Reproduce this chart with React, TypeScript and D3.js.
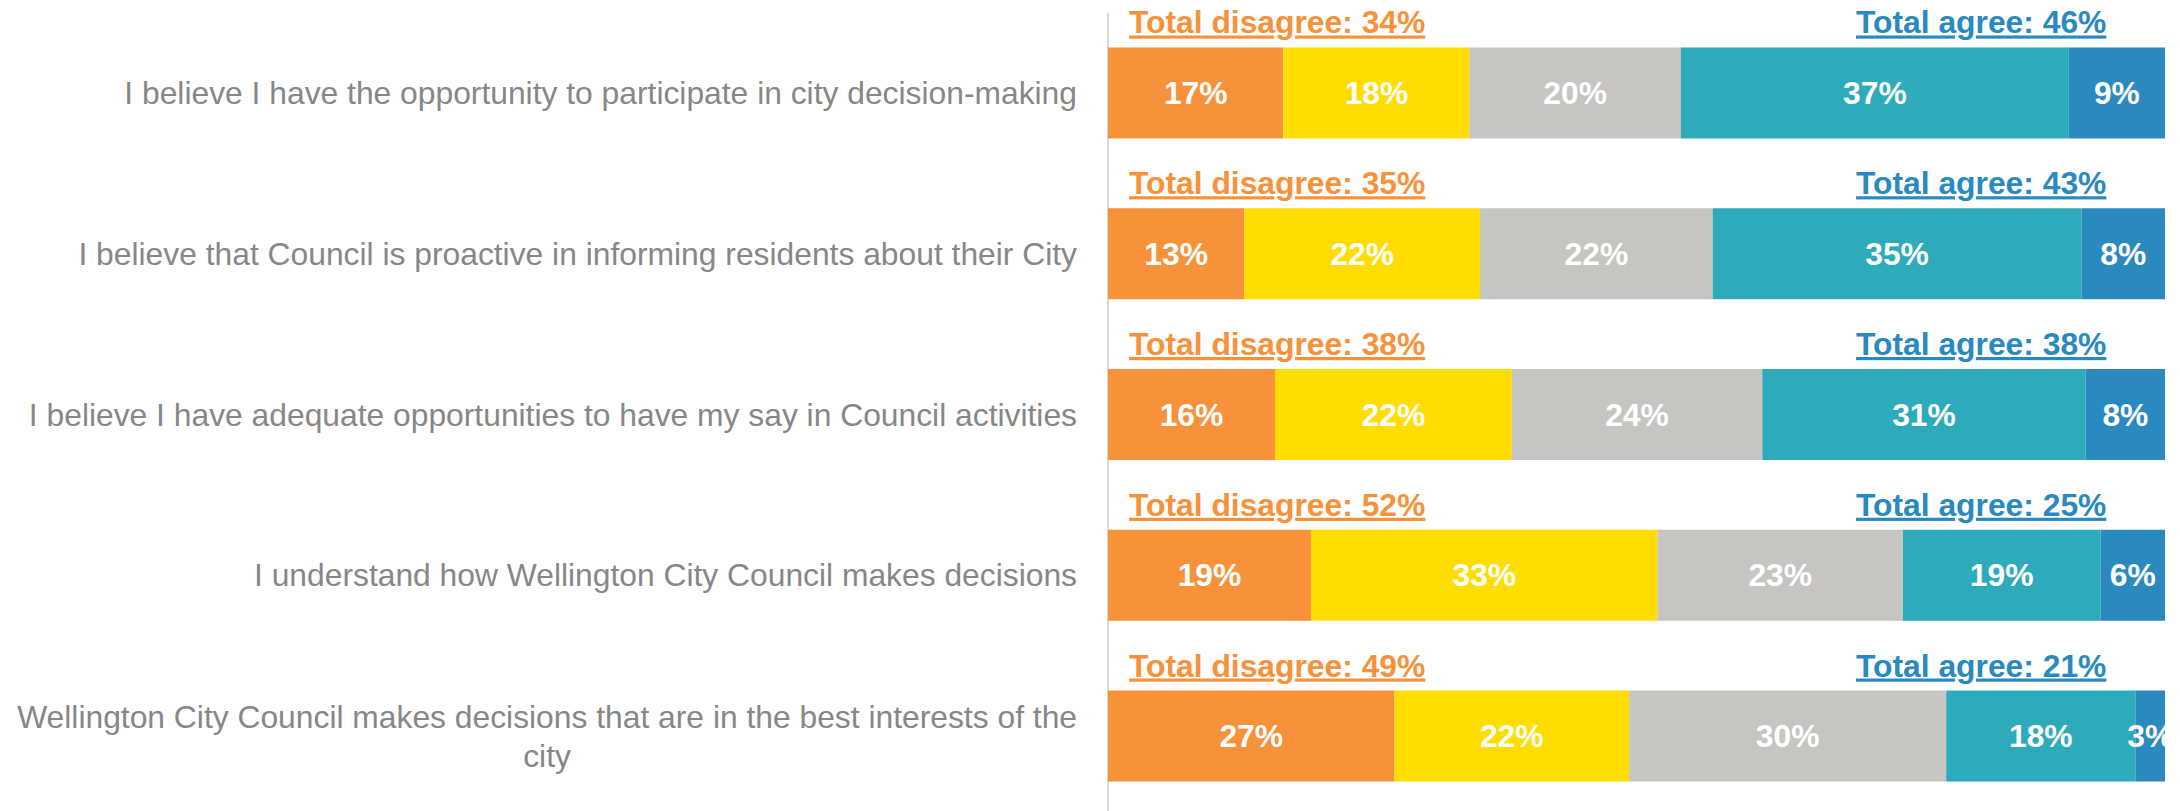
import React, { useMemo } from 'react';
import * as d3 from 'd3';

const categories = [
  'I believe I have the opportunity to participate in city decision-making',
  'I believe that Council is proactive in informing residents about their City',
  'I believe I have adequate opportunities to have my say in Council activities',
  'I understand how Wellington City Council makes decisions',
  'Wellington City Council makes decisions that are in the best interests of the city',
];

// shares per row
const stronglyDisagree = [16.6, 12.9, 15.8, 19.2, 27.1];
const disagree = [17.6, 22.3, 22.4, 32.8, 22.2];
const neutral = [20.0, 22.0, 23.7, 23.2, 30.0];
const agree = [36.7, 34.9, 30.6, 18.7, 17.9];
const stronglyAgree = [9.1, 7.9, 7.5, 6.1, 2.8];

const totalDisagree = [34, 35, 38, 52, 49];
const totalAgree = [46, 43, 38, 25, 21];

const series = [stronglyDisagree, disagree, neutral, agree, stronglyAgree];
const colors = ['#f7923b', '#ffdd00', '#c6c5c2', '#2eabba', '#2a8ac0'];

const width = 2180;
const height = 811;
const fontSize = 31.8;
const font = '"Liberation Sans", Arial, sans-serif';

const App = () => {
  const x = d3.scaleLinear().domain([0, 100]).range([1108, 2165]);
  const y = d3.scaleBand<number>()
    .domain(d3.range(categories.length))
    .range([12.6, 816.4])
    .paddingInner(0.434)
    .paddingOuter(0.217);

  const rows = categories.map((c, i) => {
    const vals = series.map(s => s[i]);
    const starts = d3.cumsum([0, ...vals.slice(0, -1)]);
    return vals.map((v, j) => ({ v, x0: starts[j], x1: starts[j] + v, color: colors[j] }));
  });

  // split the last label the way the source wraps it
  const labelLines = categories.map(c =>
    c.length > 80 ? [c.slice(0, c.lastIndexOf(' ')), c.slice(c.lastIndexOf(' ') + 1)] : [c]
  );

  const measure = useMemo(() => {
    const ctx = document.createElement('canvas').getContext('2d');
    return (t: string) => {
      if (!ctx) return t.length * fontSize * 0.45;
      ctx.font = `${fontSize}px ${font}`;
      return ctx.measureText(t).width;
    };
  }, []);

  document.body.style.margin = '0';
  const labelRight = 1077;
  const lineH = 39;

  return (
    <svg width={width} height={height} style={{ display: 'block', fontFamily: font }}>
      <defs>
        <clipPath id="plot">
          <rect x={x(0)} y={0} width={x(100) - x(0)} height={height} />
        </clipPath>
      </defs>
      <line x1={x(0)} x2={x(0)} y1={13} y2={height} stroke="#d9d9d9" strokeWidth={2} />
      {categories.map((c, i) => {
        const top = y(i) as number;
        const mid = top + y.bandwidth() / 2;
        const lines = labelLines[i];
        const blockW = d3.max(lines, measure) as number;
        return (
          <g key={i}>
            {lines.map((ln, k) => (
              <text
                key={k}
                x={lines.length > 1 ? labelRight - blockW / 2 : labelRight}
                y={mid + (k - (lines.length - 1) / 2) * lineH}
                dy="0.35em"
                textAnchor={lines.length > 1 ? 'middle' : 'end'}
                fontSize={fontSize}
                fill="#878787"
              >{ln}</text>
            ))}
            <g clipPath="url(#plot)">
              {rows[i].map((seg, j) => (
                <g key={j}>
                  <rect x={x(seg.x0)} y={top} width={x(seg.x1) - x(seg.x0)} height={y.bandwidth()} fill={seg.color} />
                  <text
                    x={(x(seg.x0) + x(seg.x1)) / 2}
                    y={mid}
                    dy="0.35em"
                    textAnchor="middle"
                    fontSize={fontSize}
                    fontWeight="bold"
                    fill="#ffffff"
                  >{Math.round(seg.v)}%</text>
                </g>
              ))}
            </g>
            <text x={1129} y={top - 14} fontSize={fontSize} fontWeight="bold" fill="#f7923b" textDecoration="underline">
              {`Total disagree: ${totalDisagree[i]}%`}
            </text>
            <text x={1856} y={top - 14} fontSize={fontSize} fontWeight="bold" fill="#2a8ac0" textDecoration="underline">
              {`Total agree: ${totalAgree[i]}%`}
            </text>
          </g>
        );
      })}
    </svg>
  );
};

export default App;
